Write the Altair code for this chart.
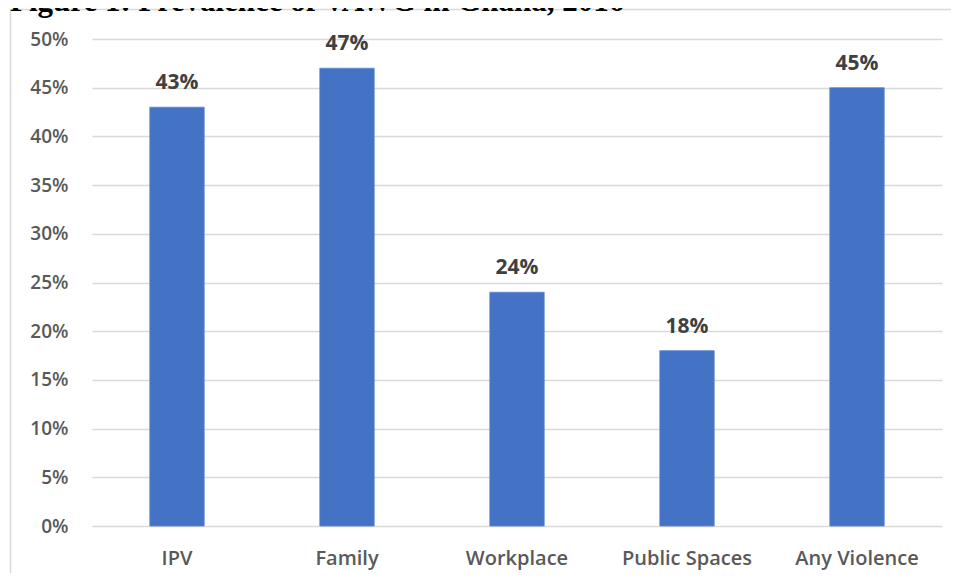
import altair as alt
import pandas as pd

categories = ["IPV", "Family", "Workplace", "Public Spaces", "Any Violence"]
values = [0.43, 0.47, 0.24, 0.18, 0.45]
tick_values = [0, 0.05, 0.10, 0.15, 0.20, 0.25, 0.30, 0.35, 0.40, 0.45, 0.50]
title_text = "Figure 1: Prevalence of VAWG in Ghana, 2016"

df = pd.DataFrame({"category": categories, "value": values})

x_enc = alt.X(
    "category:N",
    sort=None,
    scale=alt.Scale(paddingInner=0.68, paddingOuter=0.34),
    axis=alt.Axis(
        title=None, labelAngle=0, ticks=False, domain=False, grid=False,
        labelFont="Open Sans", labelFontSize=20, labelFontWeight=600,
        labelColor="#595959", labelPadding=22,
    ),
)
y_enc = alt.Y(
    "value:Q",
    scale=alt.Scale(domain=[0, 0.5], nice=False),
    axis=alt.Axis(
        title=None, values=tick_values, format=".0%", ticks=False, domain=False,
        grid=True, gridColor="#d9d9d9", gridWidth=1.5,
        labelFont="Open Sans", labelFontSize=19, labelFontWeight=600,
        labelColor="#595959", labelPadding=24,
    ),
)

bars = alt.Chart(df).mark_bar(color="#4472C4", stroke="#5a86d0", strokeWidth=0.8).encode(
    x=x_enc, y=y_enc
)
labels = alt.Chart(df).mark_text(
    dy=-18, baseline="alphabetic", align="center",
    font="Open Sans", fontSize=21, fontWeight="bold", color="#404040",
).encode(x=alt.X("category:N", sort=None), y="value:Q", text=alt.Text("value:Q", format=".0%"))

one = alt.Data(values=[{"t": title_text}])
frame = alt.Chart(one).mark_rect(fill=None, stroke="#d9d9d9", strokeWidth=1.5).encode(
    x=alt.value(-81.5), x2=alt.value(900), y=alt.value(-29.5), y2=alt.value(560)
)
title = alt.Chart(one).mark_text(
    align="left", baseline="alphabetic", font="Liberation Serif",
    fontSize=31, fontWeight="bold", color="#000000",
).encode(x=alt.value(-82), y=alt.value(-28), text="t:N")

chart = alt.layer(frame, bars, labels, title).properties(
    width=850, height=487,
    autosize=alt.AutoSizeParams(type="none"),
    padding={"left": 84, "top": 31, "right": 9, "bottom": 47},
).configure_view(stroke=None)

chart.save("out.html", embed_options={"renderer": "svg", "actions": False})
